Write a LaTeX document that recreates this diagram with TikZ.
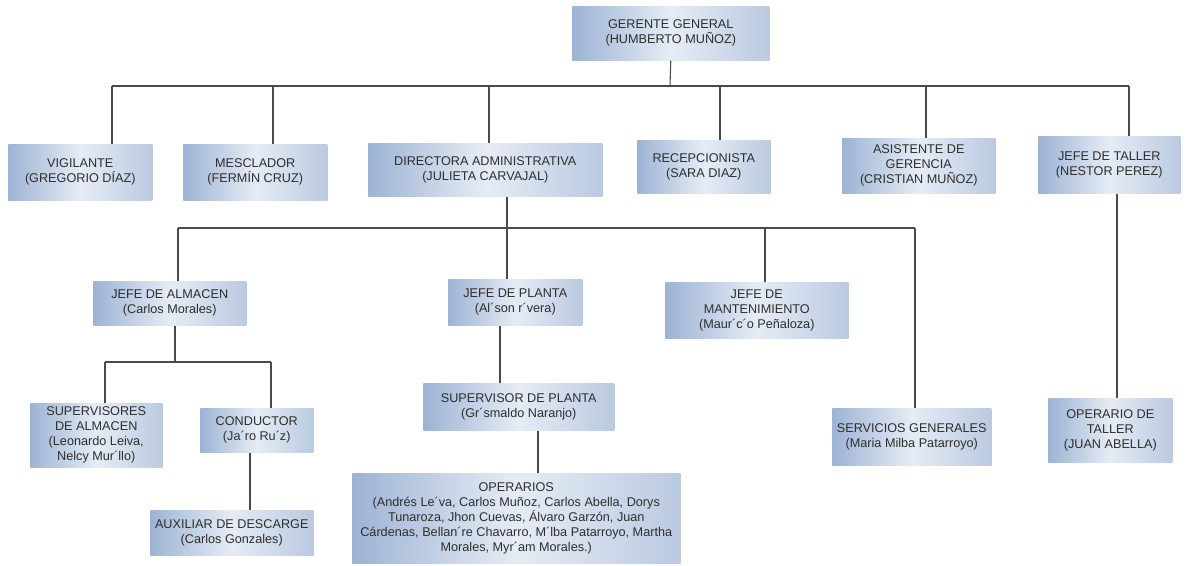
\documentclass[tikz,border=0pt]{standalone}
\usepackage{fontspec}
\setmainfont{Liberation Sans}
\definecolor{boxedge}{HTML}{9DB3D4}
\definecolor{boxmid}{HTML}{E6ECF5}
\definecolor{txtgray}{HTML}{2E2E2E}
\definecolor{linegray}{HTML}{4A4A4A}
\begin{document}
\begin{tikzpicture}[x=0.75pt,y=-0.75pt,
  box/.style n args={2}{rectangle, anchor=north west, inner sep=1pt,
    left color=boxedge, right color=boxedge!70!white, middle color=boxmid,
    align=center, text=txtgray,
    font=\fontsize{9.5}{11.25}\selectfont,
    minimum width=#1*0.75pt, minimum height=#2*0.75pt},
  conn/.style={draw=linegray, line width=0.8pt}]
\useasboundingbox (0,0) rectangle (1188,565);
% nodes
\node[box={197}{54}] (ger) at (572,6) {GERENTE GENERAL\\(HUMBERTO MUÑOZ)};
\node[box={144}{56}] (vig) at (8,144) {VIGILANTE\\(GREGORIO DÍAZ)};
\node[box={144}{56}] (mes) at (183,144) {MESCLADOR\\(FERMÍN CRUZ)};
\node[box={234}{53}] (dir) at (368,143) {DIRECTORA ADMINISTRATIVA\\(JULIETA CARVAJAL)};
\node[box={133}{53}] (rec) at (637,140) {RECEPCIONISTA\\(SARA DIAZ)};
\node[box={153}{55}] (asi) at (842,138) {ASISTENTE DE\\GERENCIA\\(CRISTIAN MUÑOZ)};
\node[box={142}{57}] (jta) at (1038,136) {JEFE DE TALLER\\(NESTOR PEREZ)};
\node[box={153}{44}] (jal) at (93,281) {JEFE DE ALMACEN\\(Carlos Morales)};
\node[box={134}{46}] (jpl) at (448,279) {JEFE DE PLANTA\\(Al´son r´vera)};
\node[box={183}{56}] (jma) at (665,282) {JEFE DE\\MANTENIMIENTO\\(Maur´c´o Peñaloza)};
\node[box={132}{64}] (sup) at (30,403) {SUPERVISORES\\DE ALMACEN\\(Leonardo Leiva,\\Nelcy Mur´llo)};
\node[box={113}{44}] (con) at (200,408) {CONDUCTOR\\(Ja´ro Ru´z)};
\node[box={163}{45}] (aux) at (150,510) {AUXILIAR DE DESCARGE\\(Carlos Gonzales)};
\node[box={191}{47}] (spl) at (423,383) {SUPERVISOR DE PLANTA\\(Gr´smaldo Naranjo)};
\node[box={328}{90}] (ope) at (352,473) {OPERARIOS\\(Andrés Le´va, Carlos Muñoz, Carlos Abella, Dorys\\Tunaroza, Jhon Cuevas, Álvaro Garzón, Juan\\Cárdenas, Bellan´re Chavarro, M´lba Patarroyo, Martha\\Morales, Myr´am Morales.)};
\node[box={159}{57}] (ser) at (832,408) {SERVICIOS GENERALES\\(Maria Milba Patarroyo)};
\node[box={124}{64}] (ota) at (1048,398) {OPERARIO DE\\TALLER\\(JUAN ABELLA)};
% bar coordinates
\coordinate (g0) at (670,86);
\coordinate (a1) at (112,86);
\coordinate (a2) at (273,86);
\coordinate (a3) at (489,86);
\coordinate (a4) at (720,86);
\coordinate (a5) at (926,86);
\coordinate (a6) at (1129,86);
\coordinate (d0) at (507,228);
\coordinate (b1) at (178,228);
\coordinate (b2) at (507,228);
\coordinate (b3) at (765,228);
\coordinate (b4) at (915,228);
\coordinate (j0) at (175,362);
\coordinate (c1) at (105,362);
\coordinate (c2) at (271,362);
\coordinate (k1) at (250,452);
\coordinate (p1) at (500,325);
\coordinate (s1) at (538,430);
\coordinate (t1) at (1117,193);
% level 1
\draw[conn] (ger.south) -- (g0);
\draw[conn] (a1) -- (a6);
\draw[conn] (a1) -- (a1 |- vig.north);
\draw[conn] (a2) -- (a2 |- mes.north);
\draw[conn] (a3) -- (a3 |- dir.north);
\draw[conn] (a4) -- (a4 |- rec.north);
\draw[conn] (a5) -- (a5 |- asi.north);
\draw[conn] (a6) -- (a6 |- jta.north);
% level 2
\draw[conn] (d0 |- dir.south) -- (d0);
\draw[conn] (b1) -- (b4);
\draw[conn] (b1) -- (b1 |- jal.north);
\draw[conn] (b2) -- (b2 |- jpl.north);
\draw[conn] (b3) -- (b3 |- jma.north);
\draw[conn] (b4) -- (b4 |- ser.north);
% almacen
\draw[conn] (j0 |- jal.south) -- (j0);
\draw[conn] (c1) -- (c2);
\draw[conn] (c1) -- (c1 |- sup.north);
\draw[conn] (c2) -- (c2 |- con.north);
\draw[conn] (k1 |- con.south) -- (k1 |- aux.north);
% planta
\draw[conn] (p1 |- jpl.south) -- (p1 |- spl.north);
\draw[conn] (s1 |- spl.south) -- (s1 |- ope.north);
% taller
\draw[conn] (t1 |- jta.south) -- (t1 |- ota.north);
\end{tikzpicture}
\end{document}
